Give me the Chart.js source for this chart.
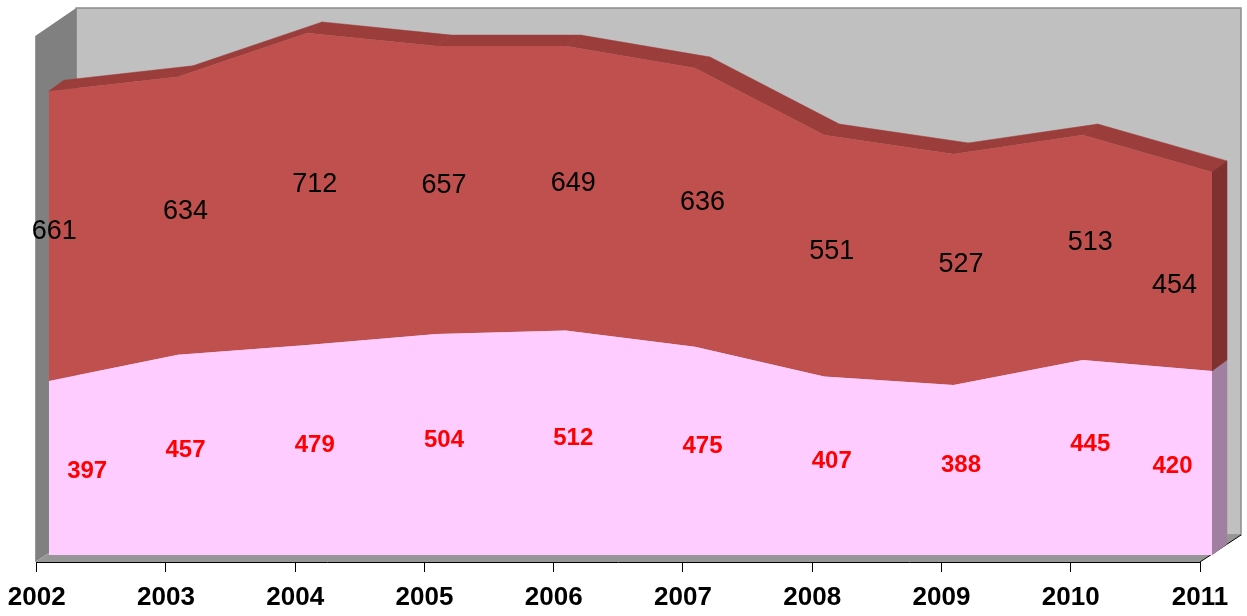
<!DOCTYPE html>
<html><head><meta charset="utf-8">
<script src="https://cdn.jsdelivr.net/npm/chart.js@4/dist/chart.umd.min.js"></script>
<style>html,body{margin:0;padding:0;background:#fff;}</style>
</head><body>
<canvas id="c" width="1247" height="616"></canvas>
<script>
const years = ['2002','2003','2004','2005','2006','2007','2008','2009','2010','2011'];
const lowerValues = [397,457,479,504,512,475,407,388,445,420];
const upperValues = [661,634,712,657,649,636,551,527,513,454];
const yMin = 0;
const yMax = 1200;

const FONT = 'Arial, "Liberation Sans", sans-serif';
const FRONT = {dx:12, dy:-7};   // front face of the area series
const BACK = {dx:27, dy:-18};   // back face of the area series
const BOX = {dx:41, dy:-27};    // back wall offset

function poly(ctx, pts, fill, stroke, lw){
  ctx.beginPath();
  ctx.moveTo(pts[0][0], pts[0][1]);
  for (let i=1;i<pts.length;i++) ctx.lineTo(pts[i][0], pts[i][1]);
  ctx.closePath();
  if (fill){ ctx.fillStyle = fill; ctx.fill(); }
  if (stroke){ ctx.strokeStyle = stroke; ctx.lineWidth = lw||1; ctx.stroke(); }
}

// label nudges (pixels) for the first / last / odd points, as Excel places them
function upperNudge(i, n){
  if (i === n-1) return [-45, 19];
  if (i === 0) return [-2, 0];
  return [0, 0];
}
function lowerNudge(i, n){
  if (i === n-1) return [-47, 8];
  if (i === 0) return [31, 8];
  if (i === n-2) return [0, -9];
  return [0, 0];
}

const depthPlugin = {
  id: 'depth3d',
  beforeDraw(chart){
    const {ctx, chartArea:a} = chart;
    const L = a.left - 1.5, R = a.right, T = a.top, B = a.bottom;
    ctx.save();
    poly(ctx, [[L+BOX.dx, T+BOX.dy-1],[R+BOX.dx, T+BOX.dy-1],[R+BOX.dx, B+BOX.dy],[L+BOX.dx, B+BOX.dy]], '#c0c0c0', '#8c8c8c', 1.5);
    poly(ctx, [[L, T],[L+BOX.dx, T+BOX.dy-1],[L+BOX.dx, B+BOX.dy],[L, B]], '#808080');
    poly(ctx, [[L, B],[L+BOX.dx, B+BOX.dy],[R+BOX.dx, B+BOX.dy],[R, B]], '#969696');
    ctx.beginPath();
    ctx.moveTo(R, B); ctx.lineTo(R+BOX.dx, B+BOX.dy);
    ctx.strokeStyle = '#000'; ctx.lineWidth = 1; ctx.stroke();
    ctx.restore();
  },
  beforeDatasetsDraw(chart){
    const {ctx} = chart;
    const xs = chart.scales.x, ys = chart.scales.y;
    const n = years.length;
    const lowTop = [], upTop = [], px = [];
    for (let i=0;i<n;i++){
      px.push(xs.getPixelForValue(i));
      lowTop.push(ys.getPixelForValue(lowerValues[i]));
      upTop.push(ys.getPixelForValue(lowerValues[i]+upperValues[i]));
    }
    const base = ys.getPixelForValue(0);
    ctx.save();
    for (let i=0;i<n-1;i++){
      poly(ctx, [
        [px[i]+FRONT.dx, upTop[i]+FRONT.dy],
        [px[i+1]+FRONT.dx, upTop[i+1]+FRONT.dy],
        [px[i+1]+BACK.dx, upTop[i+1]+BACK.dy],
        [px[i]+BACK.dx, upTop[i]+BACK.dy]
      ], '#9a3d3b', '#9a3d3b', 0.5);
    }
    const j = n-1;
    poly(ctx, [
      [px[j]+FRONT.dx, base+FRONT.dy],
      [px[j]+FRONT.dx, lowTop[j]+FRONT.dy],
      [px[j]+BACK.dx, lowTop[j]+BACK.dy],
      [px[j]+BACK.dx, base+BACK.dy]
    ], '#a080a0', '#a080a0', 0.5);
    poly(ctx, [
      [px[j]+FRONT.dx, lowTop[j]+FRONT.dy],
      [px[j]+FRONT.dx, upTop[j]+FRONT.dy],
      [px[j]+BACK.dx, upTop[j]+BACK.dy],
      [px[j]+BACK.dx, lowTop[j]+BACK.dy]
    ], '#7e312f', '#7e312f', 0.5);
    ctx.restore();
    ctx.save();
    ctx.translate(FRONT.dx, FRONT.dy);
  },
  afterDatasetsDraw(chart){
    const {ctx} = chart;
    ctx.restore();
    const xs = chart.scales.x, ys = chart.scales.y;
    const n = years.length;
    const mx = (FRONT.dx+BACK.dx)/2, my = (FRONT.dy+BACK.dy)/2;
    ctx.save();
    ctx.textAlign = 'center';
    ctx.textBaseline = 'middle';
    for (let i=0;i<n;i++){
      const x0 = xs.getPixelForValue(i) + mx;
      const nu = upperNudge(i, n);
      const yu = ys.getPixelForValue(lowerValues[i] + upperValues[i]/2) + my + 1;
      ctx.font = '27px ' + FONT;
      ctx.fillStyle = '#000';
      ctx.fillText(String(upperValues[i]), x0 + nu[0], yu + nu[1]);
      const nl = lowerNudge(i, n);
      const yl = ys.getPixelForValue(lowerValues[i]/2) + my + 1;
      ctx.font = 'bold 24px ' + FONT;
      ctx.fillStyle = '#ff0000';
      ctx.fillText(String(lowerValues[i]), x0 + nl[0], yl + nl[1]);
    }
    ctx.restore();
  }
};

new Chart(document.getElementById('c'), {
  type: 'line',
  data: {
    labels: years,
    datasets: [
      {label:'lower', data: lowerValues, backgroundColor:'#ffccff', borderWidth:0, pointRadius:0, fill:'origin', tension:0, clip:false},
      {label:'upper', data: upperValues, backgroundColor:'#c0504d', borderWidth:0, pointRadius:0, fill:'-1', tension:0, clip:false}
    ]
  },
  options: {
    responsive: false,
    animation: false,
    events: [],
    layout: {padding: {left: 36.7, right: 47, top: 36, bottom: 0}},
    plugins: {legend:{display:false}, tooltip:{enabled:false}, title:{display:false}},
    scales: {
      x: {
        offset: false,
        grid: {display:true, drawOnChartArea:false, drawTicks:true, tickLength:10, color:'#000', tickColor:'#000'},
        border: {display:true, color:'#000', width:1},
        ticks: {color:'#000', font:{family: FONT, size:26, weight:'bold', lineHeight:1.5}, padding:6, maxRotation:0, autoSkip:false},
        afterFit(s){ s.height = 54; }
      },
      y: {
        display: false,
        stacked: true,
        min: yMin, max: yMax
      }
    }
  },
  plugins: [depthPlugin]
});
</script>
</body></html>
